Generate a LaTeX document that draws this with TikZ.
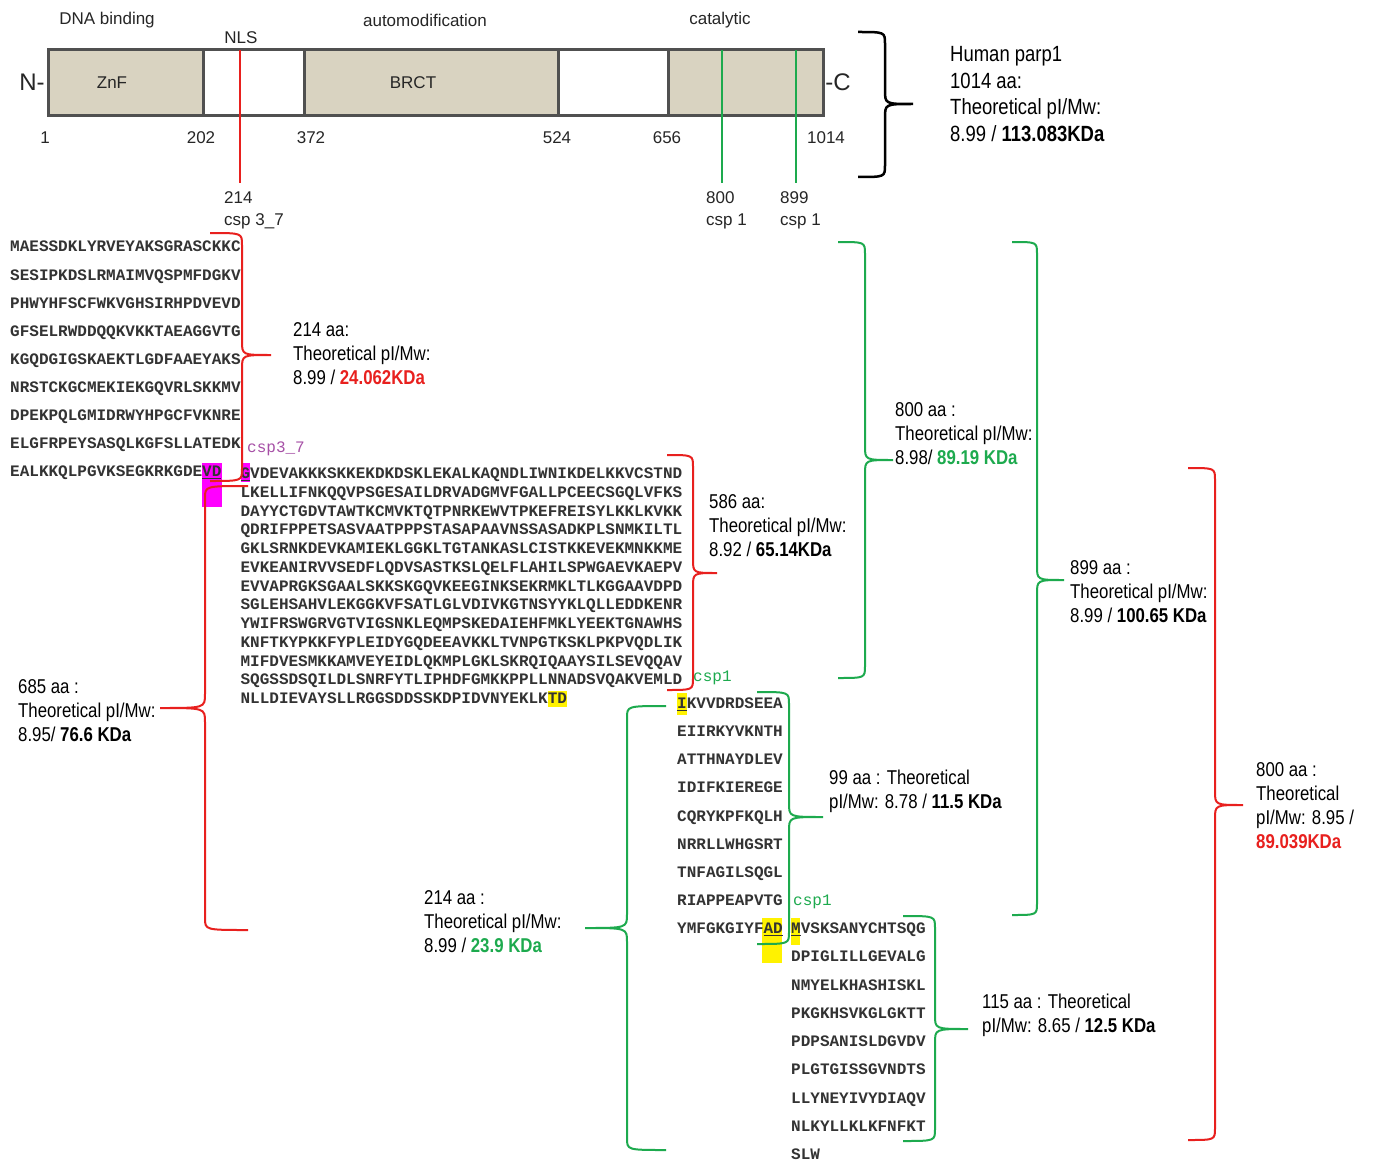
\documentclass[tikz,border=0pt]{standalone}
\usepackage{fontspec}
\setmainfont{Liberation Sans}
\newfontfamily\narrowfont{Liberation Sans}[FakeStretch=0.84]
\newfontfamily\seqfont{Liberation Mono}
\usepackage{tikz}
\usetikzlibrary{calc}
\definecolor{cTan}{HTML}{D9D3C1}
\definecolor{cFrame}{HTML}{505050}
\definecolor{cCut}{HTML}{E8201E}
\definecolor{cGrn}{HTML}{1DAA4E}
\definecolor{cMag}{HTML}{FF00FF}
\definecolor{cYel}{HTML}{FFF200}
\definecolor{cPurp}{HTML}{A64FA6}
% brace: end x, spine x, tip x, top y, tip y, bottom y
\newcommand{\seqbrace}[6]{(#1,#4) .. controls (#2,#4) .. (#2,#4+12)
  -- (#2,#5-14) .. controls (#2,#5) .. (#3,#5)
  .. controls (#2,#5) .. (#2,#5+14)
  -- (#2,#6-12) .. controls (#2,#6) .. (#1,#6)}

\begin{document}
\begin{tikzpicture}[x=1pt,y=-1pt,
  lbl/.style={font=\fontsize{17}{22}\selectfont,text=black!85,inner sep=0pt,align=left},
  ann/.style={font=\narrowfont\fontsize{20}{24}\selectfont,align=left,inner sep=0pt,anchor=west},
  seq/.style={font=\seqfont\bfseries\fontsize{16}{28.1}\selectfont,text=black!80,
              align=left,inner sep=0pt,anchor=north west},
  tag/.style={font=\seqfont\fontsize{16}{18}\selectfont,inner sep=0pt,anchor=west},
  brc/.style={line width=2pt},
  cut/.style={line width=2pt},
  ]
  \useasboundingbox[fill=white] (0,0) rectangle (1383,1169);

  % domain map
  \fill[cTan] (48,50) rectangle (203,116);
  \fill[cTan] (304,50) rectangle (558,116);
  \fill[cTan] (668,50) rectangle (823,116);
  \draw[cFrame,line width=3pt] (48,50) rectangle (823,116)
    (203,50) -- (203,116) (304,50) -- (304,116)
    (558,50) -- (558,116) (668,50) -- (668,116);

  \node[lbl] (dna) at (107,20) {DNA binding};
  \node[lbl] (nls) at (241,38) {NLS};
  \node[lbl] (auto) at (425,20) {automodification};
  \node[lbl] (cat) at (720,20) {catalytic};
  \node[lbl,font=\fontsize{24}{26}\selectfont] (nterm) at (32,82) {N-};
  \node[lbl,font=\fontsize{24}{26}\selectfont] (cterm) at (838,82) {-C};
  \node[lbl] (znf) at (112,83) {ZnF};
  \node[lbl] (brct) at (413,83) {BRCT};
  \node[lbl] (p1) at (45,138) {1};
  \node[lbl] (p202) at (201,138) {202};
  \node[lbl] (p372) at (311,138) {372};
  \node[lbl] (p524) at (557,138) {524};
  \node[lbl] (p656) at (667,138) {656};
  \node[lbl] (p1014) at (826,138) {1014};

  \draw[cut,cCut] (240,50) -- (240,183);
  \draw[cut,cGrn] (722,50) -- (722,183);
  \draw[cut,cGrn] (796,50) -- (796,183);
  \node[lbl,anchor=west] (s214) at (224,210) {214\\csp 3\_7};
  \node[lbl,anchor=west] (s800) at (706,210) {800\\csp 1};
  \node[lbl,anchor=west] (s899) at (780,210) {899\\csp 1};

  \draw[line width=2.5pt] \seqbrace{858}{885}{913}{32}{104}{177};
  \node[ann,font=\narrowfont\fontsize{22}{26.7}\selectfont] (human) at (950,94)
    {Human parp1\\1014 aa:\\Theoretical pI/Mw:\\8.99 / \textbf{113.083KDa}};

  % cleavage sites
  \fill[cMag] (202,463) rectangle (222,507);
  \fill[cMag] (241,463) rectangle (250,482);
  \fill[cYel] (548,691) rectangle (567,707);
  \fill[cYel] (677,693) rectangle (687,715);
  \fill[cYel] (762,918) rectangle (782,963);
  \fill[cYel] (791,918) rectangle (800,945);

  % sequence
  \node[seq] (seqA) at (10,241) {MAESSDKLYRVEYAKSGRASCKKC\\SESIPKDSLRMAIMVQSPMFDGKV\\
    PHWYHFSCFWKVGHSIRHPDVEVD\\GFSELRWDDQQKVKKTAEAGGVTG\\KGQDGIGSKAEKTLGDFAAEYAKS\\
    NRSTCKGCMEKIEKGQVRLSKKMV\\DPEKPQLGMIDRWYHPGCFVKNRE\\ELGFRPEYSASQLKGFSLLATEDK\\
    EALKKQLPGVKSEGKRKGDE\underline{VD}};
  \node[seq,font=\seqfont\bfseries\fontsize{16}{18.75}\selectfont] (seqB) at (240.4,467.7)
    {\underline{G}VDEVAKKKSKKEKDKDSKLEKALKAQNDLIWNIKDELKKVCSTND\\
    LKELLIFNKQQVPSGESAILDRVADGMVFGALLPCEECSGQLVFKS\\
    DAYYCTGDVTAWTKCMVKTQTPNRKEWVTPKEFREISYLKKLKVKK\\
    QDRIFPPETSASVAATPPPSTASAPAAVNSSASADKPLSNMKILTL\\
    GKLSRNKDEVKAMIEKLGGKLTGTANKASLCISTKKEVEKMNKKME\\
    EVKEANIRVVSEDFLQDVSASTKSLQELFLAHILSPWGAEVKAEPV\\
    EVVAPRGKSGAALSKKSKGQVKEEGINKSEKRMKLTLKGGAAVDPD\\
    SGLEHSAHVLEKGGKVFSATLGLVDIVKGTNSYYKLQLLEDDKENR\\
    YWIFRSWGRVGTVIGSNKLEQMPSKEDAIEHFMKLYEEKTGNAWHS\\
    KNFTKYPKKFYPLEIDYGQDEEAVKKLTVNPGTKSKLPKPVQDLIK\\
    MIFDVESMKKAMVEYEIDLQKMPLGKLSKRQIQAAYSILSEVQQAV\\
    SQGSSDSQILDLSNRFYTLIPHDFGMKKPPLLNNADSVQAKVEMLD\\
    NLLDIEVAYSLLRGGSDDSSKDPIDVNYEKLKTD};
  \node[seq] (seqC) at (677,697.7) {\underline{I}KVVDRDSEEA\\EIIRKYVKNTH\\ATTHNAYDLEV\\
    IDIFKIEREGE\\CQRYKPFKQLH\\NRRLLWHGSRT\\TNFAGILSQGL\\RIAPPEAPVTG\\YMFGKGIYF\underline{AD}};
  \node[seq,font=\seqfont\bfseries\fontsize{16}{28.25}\selectfont] (seqD) at (791,922.7)
    {\underline{M}VSKSANYCHTSQG\\DPIGLILLGEVALG\\NMYELKHASHISKL\\PKGKHSVKGLGKTT\\
    PDPSANISLDGVDV\\PLGTGISSGVNDTS\\LLYNEYIVYDIAQV\\NLKYLLKLKFNFKT\\SLW};

  \node[tag,text=cPurp] (tcsp37) at (247,449) {csp3\_7};
  \node[tag,text=cGrn] (tcsp1a) at (693,678) {csp1};
  \node[tag,text=cGrn] (tcsp1b) at (793,902) {csp1};

  % fragments
  \draw[brc,cCut] \seqbrace{210}{242}{271}{233}{355}{481};
  \draw[brc,cCut] \seqbrace{248}{205}{160}{486}{708}{930};
  \draw[brc,cCut] \seqbrace{667}{693}{717}{455}{573}{690};
  \draw[brc,cCut] \seqbrace{1188}{1215}{1243}{468}{805}{1140};
  \draw[brc,cGrn] \seqbrace{838}{865}{893}{242}{460}{678};
  \draw[brc,cGrn] \seqbrace{1012}{1037}{1064}{242}{580}{915};
  \draw[brc,cGrn] \seqbrace{757}{789}{823}{692}{817}{944};
  \draw[brc,cGrn] \seqbrace{666}{627}{585}{706}{928}{1150};
  \draw[brc,cGrn] \seqbrace{903}{935}{968}{916}{1029}{1141};

  \node[ann] (f214) at (293,354)
    {214 aa:\\Theoretical pI/Mw:\\8.99 / \textcolor{cCut}{\textbf{24.062KDa}}};
  \node[ann] (f586) at (709,526)
    {586 aa:\\Theoretical pI/Mw:\\8.92 / \textbf{65.14KDa}};
  \node[ann] (f685) at (18,711)
    {685 aa :\\Theoretical pI/Mw:\\8.95/ \textbf{76.6 KDa}};
  \node[ann] (f800a) at (895,434)
    {800 aa :\\Theoretical pI/Mw:\\8.98/ \textcolor{cGrn}{\textbf{89.19 KDa}}};
  \node[ann] (f899) at (1070,592)
    {899 aa :\\Theoretical pI/Mw:\\8.99 / \textbf{100.65 KDa}};
  \node[ann] (f800b) at (1256,806)
    {800 aa :\\Theoretical\\pI/Mw: 8.95 /\\\textcolor{cCut}{\textbf{89.039KDa}}};
  \node[ann] (f99) at (829,791.5)
    {99 aa : Theoretical\\pI/Mw: 8.78 / \textbf{11.5 KDa}};
  \node[ann] (f214b) at (424,922)
    {214 aa :\\Theoretical pI/Mw:\\8.99 / \textcolor{cGrn}{\textbf{23.9 KDa}}};
  \node[ann] (f115) at (982,1015.5)
    {115 aa : Theoretical\\pI/Mw: 8.65 / \textbf{12.5 KDa}};
\end{tikzpicture}
\end{document}
